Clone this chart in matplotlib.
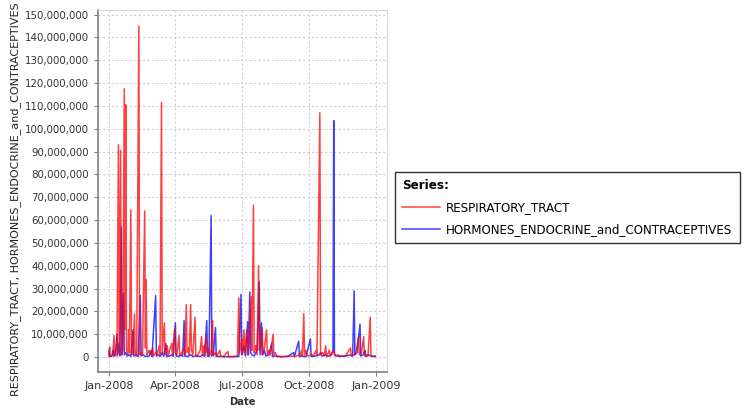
import datetime as dt
import matplotlib
matplotlib.use("Agg")
import matplotlib.pyplot as plt
import matplotlib.dates as mdates
from matplotlib.ticker import FuncFormatter, MultipleLocator

# Day offsets from 2008-01-01 and daily values (millions)
resp_days = [0, 1, 2, 5, 7, 8, 11, 13, 14, 16, 17, 19, 21, 22, 23, 24, 26, 27,
             28, 30, 31, 33, 35, 36, 38, 41, 42, 44, 46, 49, 50, 51, 52, 55,
             57, 60, 61, 64, 66, 69, 70, 72, 73, 76, 77, 80, 81, 84, 86, 87,
             90, 91, 93, 96, 97, 100, 103, 104, 106, 107, 109, 110, 112, 113,
             115, 118, 119, 122, 125, 127, 128, 130, 131, 133, 134, 136, 138,
             140, 142, 143, 146, 148, 152, 153, 157, 163, 164, 170, 176, 178,
             179, 182, 183, 185, 186, 189, 190, 192, 195, 196, 198, 199, 201,
             203, 205, 206, 208, 210, 211, 213, 216, 217, 219, 221, 225, 226,
             228, 230, 240, 250, 255, 262, 264, 265, 267, 268, 270, 272, 278,
             280, 284, 285, 289, 290, 293, 295, 297, 298, 301, 302, 303, 308,
             310, 313, 318, 324, 331, 332, 336, 339, 342, 343, 346, 349, 350,
             353, 355, 358, 359, 361, 365]
resp_vals = [0.5, 4.5, 0.3, 1, 9.5, 1, 0.5, 93, 2, 90.5, 1, 3, 117.5, 12,
             110.5, 3, 1, 12, 2, 64.5, 1, 2, 19, 1, 0.5, 145, 1, 2, 1, 64, 4,
             34, 1, 3, 1, 4, 0.5, 2, 1, 5, 0.5, 111.5, 2, 15, 1, 5, 0.5, 4, 6,
             1, 12.5, 2, 1, 9.5, 0.5, 2, 4, 1, 23, 2, 4, 1, 23, 3, 1, 17.5,
             0.5, 1, 3, 9, 1, 5, 0.5, 9.5, 2, 4, 0.5, 3, 16, 0.5, 2, 0.5, 3,
             0.5, 0.3, 2.5, 0.3, 0.3, 0.5, 26, 2, 8, 1, 12, 2, 12, 1, 5, 26.5,
             3, 66.5, 2, 5, 1, 40, 3, 5, 13, 1, 4, 12, 1, 3, 1, 10, 1, 2, 0.3,
             0.3, 0.5, 0.3, 1, 3, 0.5, 19, 1, 3, 0.5, 1, 0.5, 3, 0.5, 107, 1,
             2, 0.5, 5, 0.5, 2, 3, 0.5, 3, 0.5, 1, 0.5, 0.5, 4, 0.5, 1, 3, 9,
             1, 2, 9, 0.5, 1, 0.5, 17.5, 1, 0.5, 0.5]

horm_days = [0, 1, 4, 6, 7, 9, 11, 12, 14, 15, 17, 18, 20, 21, 23, 25, 28, 30,
             33, 34, 37, 40, 43, 44, 47, 50, 55, 58, 59, 64, 65, 68, 70, 73,
             75, 78, 79, 83, 86, 88, 91, 92, 95, 99, 101, 103, 104, 108, 112,
             115, 120, 125, 129, 131, 134, 135, 137, 140, 141, 143, 146, 147,
             150, 160, 170, 178, 181, 182, 185, 187, 190, 191, 193, 194, 196,
             199, 203, 206, 207, 209, 210, 213, 215, 219, 223, 224, 228, 235,
             245, 253, 254, 260, 261, 265, 270, 276, 277, 282, 288, 290, 292,
             296, 300, 305, 307, 308, 309, 312, 318, 325, 330, 334, 336, 337,
             340, 344, 345, 348, 351, 352, 356, 360, 365]
horm_vals = [3, 0.3, 0.5, 3, 0.3, 2, 10, 1, 6, 0.5, 57, 1, 28, 1, 2, 0.5, 1,
             0.3, 12, 0.5, 1, 0.3, 27, 0.5, 1, 0.3, 0.5, 3, 0.3, 27, 0.5, 1,
             0.3, 2, 0.3, 6, 0.3, 0.5, 1, 0.3, 15, 0.5, 0.3, 1, 0.3, 16, 0.5,
             0.3, 1, 0.3, 0.5, 0.3, 1, 0.3, 16, 0.5, 0.3, 62, 0.5, 1, 13, 0.3,
             0.3, 0.2, 0.2, 0.3, 27.5, 1, 5, 0.5, 15.5, 1, 28.5, 2, 1, 0.5, 3,
             33, 1, 15, 1, 3, 0.5, 1, 6, 0.3, 0.5, 0.2, 0.3, 2, 0.2, 7, 0.3,
             0.5, 0.2, 8, 0.3, 0.5, 1, 2, 0.5, 1, 0.3, 1, 3, 103.5, 1, 0.5,
             0.3, 0.5, 1, 0.5, 29, 1, 2, 14.5, 0.5, 1, 3, 0.3, 1, 0.3, 0.3]

start = dt.datetime(2008, 1, 1)


def to_dates(days):
    return [start + dt.timedelta(days=d) for d in days]


fig = plt.figure(figsize=(7.54, 4.11), dpi=100)
ax = fig.add_axes([98 / 754, 39 / 411, 289 / 754, 362 / 411])

# Series lines
ax.plot(to_dates(horm_days), [v * 1e6 for v in horm_vals], color='#0000ff',
        lw=1.1, alpha=0.75, label='HORMONES_ENDOCRINE_and_CONTRACEPTIVES')
ax.plot(to_dates(resp_days), [v * 1e6 for v in resp_vals], color='#ff0000',
        lw=1.1, alpha=0.75, label='RESPIRATORY_TRACT')

# Axes limits and ticks
ax.set_xlim(start - dt.timedelta(days=15), start + dt.timedelta(days=381))
ax.set_ylim(-6.5e6, 152e6)
ax.xaxis.set_major_locator(mdates.MonthLocator(bymonth=[1, 4, 7, 10]))
ax.xaxis.set_major_formatter(mdates.DateFormatter('%b-%Y'))
ax.yaxis.set_major_locator(MultipleLocator(10e6))
ax.yaxis.set_major_formatter(FuncFormatter(lambda v, p: f'{v:,.0f}'))
ax.tick_params(labelsize=7.4, labelcolor='#333333', color='#808080',
               length=3, width=0.8)
ax.tick_params(axis='x', labelsize=8)

# Grid and frame
ax.grid(True, color='#d0d0d0', linestyle=(0, (2, 2)), linewidth=0.8)
ax.set_axisbelow(True)
for side in ['top', 'right']:
    ax.spines[side].set_color('#d8d8d8')
for side in ['left', 'bottom']:
    ax.spines[side].set_color('#808080')
    ax.spines[side].set_linewidth(1.2)

ax.set_xlabel('Date', fontsize=7.2, fontweight='bold', color='#333333',
              labelpad=4)
fig.text(16 / 754, 15 / 411,
         'RESPIRATORY_TRACT, HORMONES_ENDOCRINE_and_CONTRACEPTIVES',
         rotation=90, ha='center', va='bottom', fontsize=8.0,
         color='#222222')

# Legend with title
handles, labels = ax.get_legend_handles_labels()
leg = fig.legend(handles[::-1], labels[::-1], title='Series:',
                 loc='upper left', bbox_to_anchor=(395 / 754, 239 / 411),
                 fontsize=8.6, title_fontproperties={'weight': 'bold',
                                                     'size': 8.6},
                 alignment='left', frameon=True, fancybox=False,
                 handlelength=3.2, handletextpad=0.5, borderpad=0.6,
                 labelspacing=0.75, borderaxespad=0)
leg.get_frame().set_edgecolor('black')
leg.get_frame().set_linewidth(1.0)

fig.savefig('out.png', dpi=100)
